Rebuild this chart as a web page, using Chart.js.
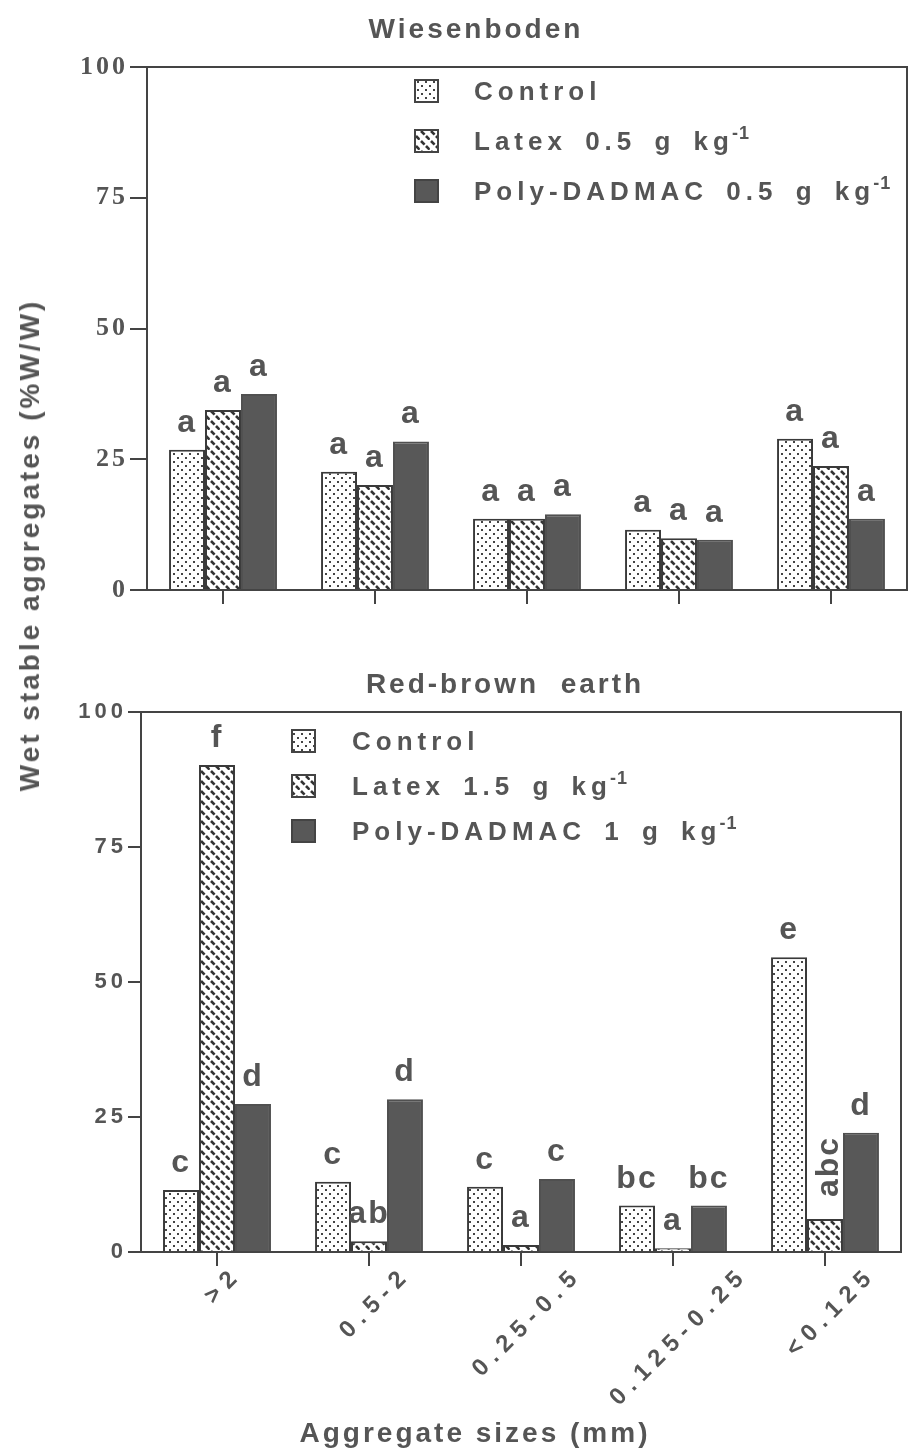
<!DOCTYPE html>
<html>
<head>
<meta charset="utf-8">
<title>Wet stable aggregates</title>
<script src="https://cdn.jsdelivr.net/npm/chart.js@4.4.1/dist/chart.umd.min.js"></script>
<style>
  body { margin: 0; background: #fff; }
  .page { position: relative; width: 911px; height: 1454px; overflow: hidden;
          font-family: 'Liberation Sans', Arial, sans-serif; font-weight: bold; color: #555; }
  canvas { position: absolute; left: 0; }
  .lbl { position: absolute; white-space: nowrap; transform: translate(-50%, -50%); }
</style>
</head>
<body>
<div class="page">
  <canvas id="topChart" width="911" height="640" style="top:0"></canvas>
  <canvas id="bottomChart" width="911" height="814" style="top:640px"></canvas>
  <div class="lbl" style="left:476px; top:29px; font-size:28px; letter-spacing:3px;">Wiesenboden</div>
  <div class="lbl" style="left:505px; top:684px; font-size:28px; letter-spacing:3px;">Red-brown&nbsp; earth</div>
  <div class="lbl" style="left:30px; top:545px; font-size:28px; letter-spacing:3px; transform: translate(-50%, -50%) rotate(-90deg);">Wet stable aggregates (%W/W)</div>
  <div class="lbl" style="left:475px; top:1433px; font-size:28px; letter-spacing:3px;">Aggregate sizes (mm)</div>
</div>

<script>
// aggregate size classes (mm)
const sizes = ['>2', '0.5-2', '0.25-0.5', '0.125-0.25', '<0.125'];

// Wiesenboden
const wiesenNames = ['Control', 'Latex 0.5 g kg^-1', 'Poly-DADMAC 0.5 g kg^-1'];
const wiesenControl = [26.8, 22.6, 13.6, 11.5, 28.9];
const wiesenLatex = [34.4, 20.1, 13.6, 9.9, 23.7];
const wiesenPoly = [37.5, 28.4, 14.5, 9.6, 13.6];
const wiesenLetters = [
    ['a', 'a', 'a', 'a', 'a'],
    ['a', 'a', 'a', 'a', 'a'],
    ['a', 'a', 'a', 'a', 'a']
];

// Red-brown earth
const redNames = ['Control', 'Latex 1.5 g kg^-1', 'Poly-DADMAC 1 g kg^-1'];
const redControl = [11.5, 13.0, 12.1, 8.6, 54.6];
const redLatex = [90.2, 2.0, 1.3, 0.7, 6.1];
const redPoly = [27.4, 28.3, 13.5, 8.6, 22.1];
const redLetters = [
    ['c', 'c', 'c', 'bc', 'e'],
    ['f', 'ab', 'a', 'a', 'abc'],
    ['d', 'd', 'c', 'bc', 'd']
];

const ink = '#555';
const edge = '#444';

// fill patterns for the bars
function makePattern(ctx, kind) {
    const c = document.createElement('canvas');
    const g = c.getContext('2d');
    if (kind === 'dots') {
        c.width = 8; c.height = 8;
        g.fillStyle = '#fff'; g.fillRect(0, 0, 8, 8);
        g.fillStyle = '#444';
        g.fillRect(1, 1, 2, 2);
        g.fillRect(5, 5, 2, 2);
    } else {
        c.width = 10; c.height = 10;
        g.fillStyle = '#fff'; g.fillRect(0, 0, 10, 10);
        g.strokeStyle = '#333'; g.lineWidth = 2.6;
        for (const o of [0, 5]) {
            g.beginPath();
            g.moveTo(o + 1, o + 1);
            g.lineTo(o + 4.6, o + 4.6);
            g.stroke();
        }
    }
    return ctx.createPattern(c, 'repeat');
}

function drawRich(ctx, text, x, y, size) {
    const parts = text.split('^');
    ctx.font = `bold ${size}px 'Liberation Sans'`;
    ctx.fillText(parts[0], x, y);
    if (parts[1]) {
        const w = ctx.measureText(parts[0]).width;
        ctx.letterSpacing = '1px';
        ctx.font = `bold ${Math.round(size * 0.68)}px 'Liberation Sans'`;
        ctx.fillText(parts[1], x + w - 2, y - size * 0.42);
    }
}

const annotPlugin = {
    id: 'annot',
    beforeDraw(chart, args, opts) {
        chart.ctx.letterSpacing = opts.tickSpacing;
    },
    afterDraw(chart, args, opts) {
        const ctx = chart.ctx;
        const a = chart.chartArea;
        ctx.save();
        ctx.letterSpacing = '0px';
        ctx.strokeStyle = edge;
        ctx.lineWidth = 2;
        ctx.strokeRect(a.left, a.top, a.right - a.left, a.bottom - a.top);

        // rotated category labels, centred under each tick
        if (opts.xLabels) {
            const xs = chart.scales.x;
            ctx.font = "bold 24px 'Liberation Sans'";
            ctx.letterSpacing = '7px';
            ctx.fillStyle = ink;
            ctx.textAlign = 'right';
            ctx.textBaseline = 'middle';
            chart.data.labels.forEach((t, i) => {
                const w = ctx.measureText(t).width - 7;
                const x = xs.getPixelForTick(i);
                ctx.save();
                ctx.translate(x + w * 0.3536 + 4, a.bottom + 24);
                ctx.rotate(-Math.PI / 4);
                ctx.fillText(t, 7, 0);
                ctx.restore();
            });
        }

        // significance letters
        ctx.fillStyle = ink;
        ctx.font = "bold 32px 'Liberation Sans'";
        ctx.letterSpacing = '2px';
        opts.letters.forEach((row, di) => {
            const meta = chart.getDatasetMeta(di);
            row.forEach((t, i) => {
                const bar = meta.data[i];
                if (t.length > 2) {
                    ctx.save();
                    ctx.translate(bar.x + 4, bar.y - 22);
                    ctx.rotate(-Math.PI / 2);
                    ctx.textAlign = 'left';
                    ctx.textBaseline = 'middle';
                    ctx.fillText(t, 0, 0);
                    ctx.restore();
                } else {
                    ctx.textAlign = 'center';
                    ctx.textBaseline = 'alphabetic';
                    ctx.fillText(t, bar.x, bar.y - 18);
                }
            });
        });

        // legend inside the plot
        const lg = opts.legend;
        ctx.textAlign = 'left';
        ctx.wordSpacing = '6px';
        chart.data.datasets.forEach((ds, i) => {
            const y = lg.y + i * lg.gap;
            ctx.fillStyle = ds.backgroundColor;
            ctx.fillRect(lg.x, y - 20, 23, 22);
            ctx.strokeStyle = edge;
            ctx.lineWidth = 2;
            ctx.strokeRect(lg.x, y - 20, 23, 22);
            ctx.fillStyle = ink;
            ctx.letterSpacing = '5px';
            drawRich(ctx, ds.label, lg.textX, y, 26);
        });
        ctx.restore();
    }
};

function makeChart(id, names, series, letters, cfg) {
    const ctx = document.getElementById(id).getContext('2d');
    const fills = [makePattern(ctx, 'dots'), makePattern(ctx, 'dash'), '#585858'];
    return new Chart(ctx, {
        type: 'bar',
        data: {
            labels: sizes,
            datasets: series.map((vals, i) => ({
                label: names[i],
                data: vals,
                backgroundColor: fills[i],
                borderColor: i === 2 ? '#505050' : '#3a3a3a',
                borderWidth: 2,
                categoryPercentage: 0.71,
                barPercentage: 1.0
            }))
        },
        options: {
            responsive: false,
            animation: false,
            layout: { padding: cfg.padding },
            plugins: {
                legend: { display: false },
                tooltip: { enabled: false },
                annot: { letters: letters, legend: cfg.legend, tickSpacing: cfg.tickSpacing, xLabels: cfg.showX }
            },
            scales: {
                x: {
                    afterFit: (s) => { s.height = cfg.xHeight; },
                    grid: { drawOnChartArea: false, drawTicks: true, tickLength: 14, offset: false, color: edge, lineWidth: 2 },
                    border: { display: true, color: edge, width: 2 },
                    ticks: { display: false }
                },
                y: {
                    min: 0,
                    max: 100,
                    afterFit: (s) => { s.width = cfg.yWidth; },
                    grid: { drawOnChartArea: false, drawTicks: true, tickLength: cfg.yTick, color: edge, lineWidth: 2 },
                    border: { display: true, color: edge, width: 2 },
                    ticks: {
                        stepSize: 25,
                        padding: cfg.yPad,
                        color: ink,
                        font: cfg.yFont
                    }
                }
            }
        },
        plugins: [annotPlugin]
    });
}

makeChart('topChart', wiesenNames, [wiesenControl, wiesenLatex, wiesenPoly], wiesenLetters, {
    padding: { top: 67, left: 47, right: 4, bottom: 20 },
    yWidth: 100,
    xHeight: 30,
    showX: false,
    yTick: 17,
    yPad: 2,
    yFont: { family: 'Liberation Serif', weight: 'bold', size: 26 },
    tickSpacing: '3px',
    legend: { x: 415, textX: 474, y: 100, gap: 50 }
});

makeChart('bottomChart', redNames, [redControl, redLatex, redPoly], redLetters, {
    padding: { top: 72, left: 61, right: 10, bottom: 12 },
    yWidth: 80,
    xHeight: 190,
    showX: true,
    yTick: 13,
    yPad: 1,
    yFont: { family: 'Liberation Sans', weight: 'bold', size: 22 },
    tickSpacing: '4px',
    legend: { x: 292, textX: 352, y: 110, gap: 45 }
});
</script>
</body>
</html>
